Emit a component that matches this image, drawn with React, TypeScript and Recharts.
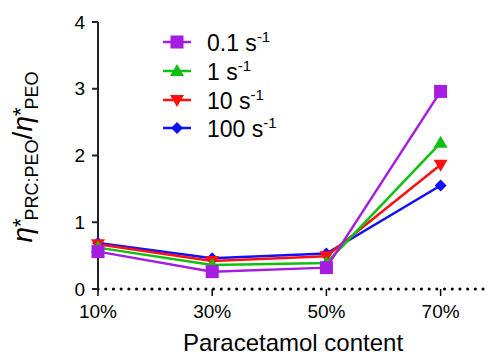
import React from "react"
import { LineChart, Line, XAxis, YAxis, Legend } from "recharts"

// paracetamol content (%) and the viscosity ratio at each shear rate
const contents = [10, 30, 50, 70]
const rate01 = [0.56, 0.26, 0.32, 2.96]
const rate1 = [0.62, 0.36, 0.39, 2.19]
const rate10 = [0.67, 0.42, 0.49, 1.86]
const rate100 = [0.69, 0.46, 0.53, 1.55]
const yTicks = [0, 1, 2, 3, 4]

const data = contents.map((c, i) => ({
  x: c,
  r01: rate01[i],
  r1: rate1[i],
  r10: rate10[i],
  r100: rate100[i],
}))

const font = "'Liberation Sans', Arial, sans-serif"

type Shape = "square" | "up" | "down" | "diamond"

const series: { key: string; rate: string; color: string; shape: Shape }[] = [
  { key: "r01", rate: "0.1", color: "#A41DE0", shape: "square" },
  { key: "r1", rate: "1", color: "#10C010", shape: "up" },
  { key: "r10", rate: "10", color: "#FF1010", shape: "down" },
  { key: "r100", rate: "100", color: "#1010FF", shape: "diamond" },
]

function Marker({ cx, cy, shape, color }: { cx: number; cy: number; shape: Shape; color: string }) {
  if (shape === "square") return <rect x={cx - 6.5} y={cy - 6.5} width={13} height={13} fill={color} />
  if (shape === "up")
    return <polygon points={`${cx},${cy - 7} ${cx + 7},${cy + 5} ${cx - 7},${cy + 5}`} fill={color} />
  if (shape === "down")
    return <polygon points={`${cx},${cy + 7} ${cx + 7},${cy - 5} ${cx - 7},${cy - 5}`} fill={color} />
  return <polygon points={`${cx},${cy - 6} ${cx + 6},${cy} ${cx},${cy + 6} ${cx - 6},${cy}`} fill={color} />
}

function LegendBox() {
  return (
    <div style={{ fontFamily: font, fontSize: 23, color: "#000", lineHeight: 1 }}>
      {series.map((s) => (
        <div key={s.key} style={{ display: "flex", alignItems: "center", height: 28.7 }}>
          <svg width={30} height={20} style={{ marginRight: 15 }}>
            <line x1={1} y1={10} x2={29} y2={10} stroke={s.color} strokeWidth={2.5} />
            <Marker cx={15} cy={10} shape={s.shape} color={s.color} />
          </svg>
          <span>
            {s.rate} s<sup style={{ fontSize: 15, verticalAlign: "9px" }}>-1</sup>
          </span>
        </div>
      ))}
    </div>
  )
}

function YLabel() {
  const cx = 32
  const cy = 157
  return (
    <text
      x={cx}
      y={cy}
      transform={`rotate(-90, ${cx}, ${cy})`}
      textAnchor="middle"
      fontFamily={font}
      fill="#000"
    >
      <tspan fontSize={28} fontStyle="italic">η</tspan>
      <tspan fontSize={22} dy={-4}>*</tspan>
      <tspan fontSize={18} dx={-2} dy={10}>PRC:PEO</tspan>
      <tspan fontSize={28} dy={-6}>/</tspan>
      <tspan fontSize={28} fontStyle="italic">η</tspan>
      <tspan fontSize={22} dy={-4}>*</tspan>
      <tspan fontSize={18} dx={-2} dy={10}>PEO</tspan>
    </text>
  )
}

export default function App() {
  return (
    <div style={{ position: "absolute", left: 0, top: 0, background: "#fff" }}>
      <LineChart width={488} height={355} data={data} margin={{ top: 22, right: 0, bottom: 0, left: 0 }}>
        <XAxis
          dataKey="x"
          type="number"
          domain={[10, 78.3]}
          ticks={contents}
          tickFormatter={(v: number) => `${v}%`}
          height={66}
          axisLine={{ stroke: "#000", strokeWidth: 3, strokeDasharray: "0.1 7.6", strokeLinecap: "round" }}
          tickLine={{ stroke: "#000", strokeWidth: 1.5 }}
          tickSize={7}
          tickMargin={9}
          tick={{ fill: "#000", fontSize: 19, fontFamily: font }}
          label={{ value: "Paracetamol content", position: "insideBottom", offset: 4, fill: "#000", fontSize: 24, fontFamily: font }}
        />
        <YAxis
          type="number"
          domain={[0, 4]}
          ticks={yTicks}
          width={98}
          axisLine={{ stroke: "#222", strokeWidth: 2 }}
          tickLine={{ stroke: "#222", strokeWidth: 2 }}
          tickSize={6}
          tickMargin={7}
          tick={{ fill: "#000", fontSize: 19, fontFamily: font }}
          label={{ content: () => <YLabel /> }}
        />
        <Legend
          layout="vertical"
          verticalAlign="middle"
          align="center"
          content={() => <LegendBox />}
          wrapperStyle={{ left: 162, top: 28, width: "auto" }}
        />
        {[...series].reverse().map((s) => (
          <Line
            key={s.key}
            dataKey={s.key}
            stroke={s.color}
            strokeWidth={2.5}
            isAnimationActive={false}
            dot={(p: any) => <Marker key={`${s.key}-${p.index}`} cx={p.cx} cy={p.cy} shape={s.shape} color={s.color} />}
          />
        ))}
      </LineChart>
    </div>
  )
}
